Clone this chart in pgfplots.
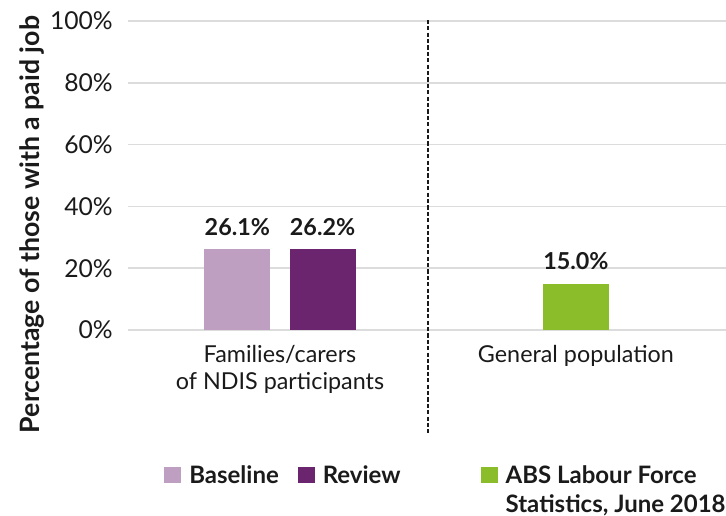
\documentclass[border=0pt]{standalone}
\usepackage{pgfplots}
\pgfplotsset{compat=1.18}
\usepackage{fontspec}
\setmainfont{Lato}
\definecolor{cBase}{HTML}{BE9FC1}
\definecolor{cRev}{HTML}{6B246E}
\definecolor{cAbs}{HTML}{8BBD2A}
\definecolor{txt}{HTML}{1A1A1A}
\definecolor{gridc}{HTML}{DCDCDC}
\begin{document}
\begin{tikzpicture}
\color{txt}
\begin{axis}[
 scale only axis, width=448.5pt, height=231.75pt,
 xmin=-0.5135, xmax=1.507, ymin=0, ymax=100,
 ybar, bar width=0.223, bar shift=0pt,
 every axis plot post/.append style={legend image code/.code={\path[##1, draw=none] (0pt,0pt) rectangle (12.75pt,12pt);}},
 axis line style={draw=none}, major tick length=0pt,
 ymajorgrids, major grid style={draw=gridc, line width=1.1pt},
 ytick={0,20,...,100},
 yticklabel={\pgfmathprintnumber{\tick}\%},
 /pgf/number format/assume math mode=true,
 yticklabel style={font=\fontsize{18.5}{22}\selectfont, anchor=east, inner xsep=0pt, xshift=-11.25pt},
 xtick={0,1}, xticklabels={{Families/carers\\of NDIS participants},{General population}},
 xticklabel style={font=\fontsize{17.5}{20.25}\selectfont, align=center, anchor=north, inner sep=0pt, yshift=-11pt},
 ylabel={Percentage of those with a paid job},
 ylabel style={font=\fontsize{20}{24}\selectfont\bfseries, at={(rel axis cs:-0.1488,0.3414)}, anchor=base, inner sep=0pt},
 nodes near coords={\pgfmathprintnumber[fixed,fixed zerofill,precision=1]{\pgfplotspointmeta}\%},
 nodes near coords style={font=\fontsize{17.5}{20}\selectfont\bfseries, anchor=base, yshift=10.5pt, inner sep=0pt},
 legend columns=3,
 legend cell align=left,
 legend style={at={(rel axis cs:0.0602,-0.4294)}, anchor=north west, draw=none, fill=none, inner sep=0pt,
   font=\fontsize{18}{21.75}\selectfont\bfseries, nodes={inner sep=0pt}, cells={anchor=base west}, column sep=0pt,
   /tikz/every odd column/.style={column sep=6pt},
   /tikz/column 2/.style={column sep=14.25pt},
   /tikz/column 4/.style={column sep=60pt}},
 clip=false,
]
\addplot[fill=cBase, draw=none] coordinates {(-0.144,26.1)};
\addlegendentry{Baseline}
\addplot[fill=cRev, draw=none] coordinates {(0.144,26.2)};
\addlegendentry{Review}
\addplot[fill=cAbs, draw=none] coordinates {(1,15.0)};
\addlegendentry{\begin{tabular}[t]{@{}l@{}}ABS Labour Force\\Statistics, June 2018\end{tabular}}
\draw[dash pattern=on 3.2pt off 1.6pt, line width=0.9pt, txt] (axis cs:0.5,100.4) -- (axis cs:0.5,-33.3);
\coordinate (bl) at (rel axis cs:0,0);
\end{axis}
\pgfresetboundingbox
\path (bl) ++(-96pt,-139.5pt) rectangle ++(544.5pt,387pt);
\end{tikzpicture}
\end{document}
